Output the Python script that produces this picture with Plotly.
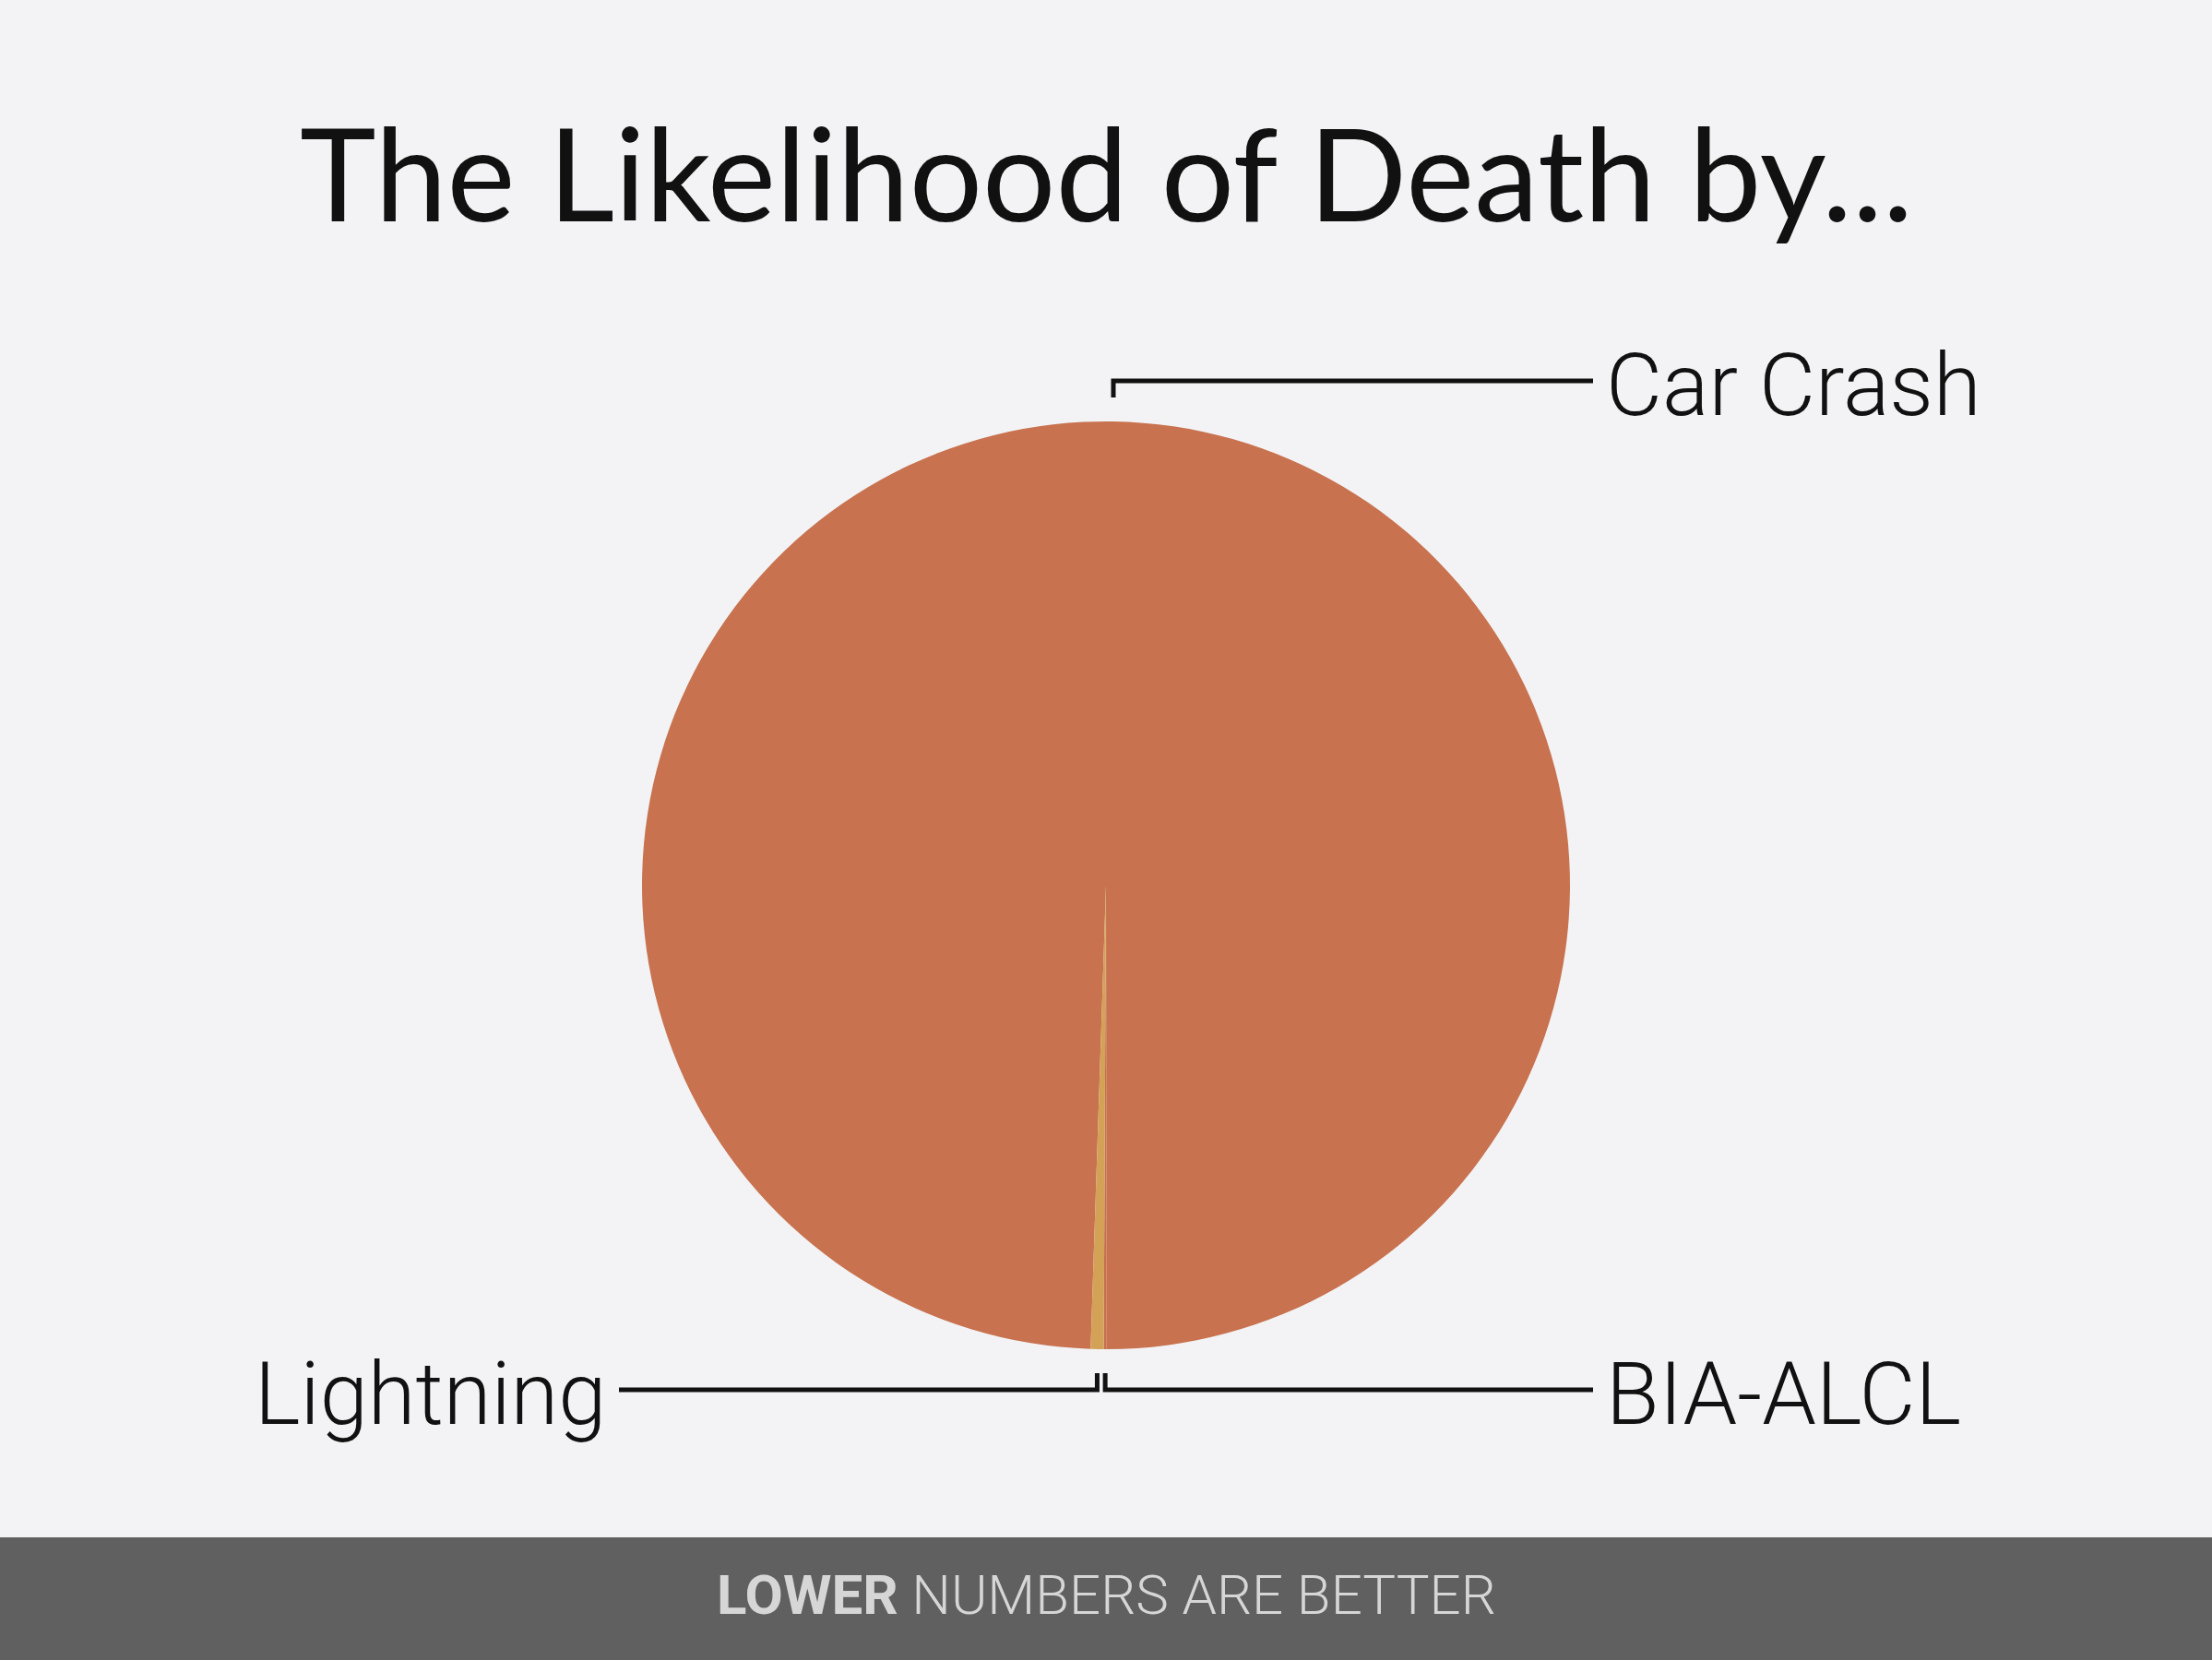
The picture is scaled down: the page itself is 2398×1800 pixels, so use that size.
import math

import plotly.graph_objects as go

# chart data
labels = ["Car Crash", "BIA-ALCL", "Lightning"]
values = [99.45, 0.10, 0.45]
slice_colors = ["#C8724F", "#C56F4C", "#D4A257"]
label_sides = ["right", "right", "left"]

title_text = "The Likelihood of Death by..."
footer_text = "<b>LOWER</b> NUMBERS ARE BETTER"

# page / pie geometry (pixels)
W, H = 2398, 1800
CX, CY, R = 1199, 960, 503
ROTATION = 181.9  # clockwise from 12 o'clock, where the first slice starts
TICK_GAP, TICK_LEN = 26, 18
LINE_REACH = 528   # horizontal leader end, measured from the pie centre
TEXT_PAD = 12
FOOTER_H = 133

BG = "#F3F3F5"
INK = "#111111"


def px(x):
    return x / W


def py(y):
    return 1 - y / H


fig = go.Figure()
fig.add_pie(
    labels=labels,
    values=values,
    marker=dict(colors=slice_colors, line=dict(width=0)),
    sort=False,
    direction="clockwise",
    rotation=ROTATION,
    textinfo="none",
    hoverinfo="label+percent",
    showlegend=False,
    domain=dict(x=[px(CX - R), px(CX + R)], y=[py(CY + R), py(CY - R)]),
)

# elbow leader lines + labels, placed at each slice's mid-angle
shapes = []
annotations = []
total = sum(values)
angle = ROTATION
for name, v, side in zip(labels, values, label_sides):
    span = v / total * 360
    mid = math.radians(angle + span / 2)
    angle += span
    x0 = CX + R * math.sin(mid)
    up = math.cos(mid) > 0
    sgn = -1 if up else 1
    y_tick = CY + sgn * (R + TICK_GAP)
    y_line = CY + sgn * (R + TICK_GAP + TICK_LEN)
    x_end = CX + LINE_REACH if side == "right" else CX - LINE_REACH
    path = f"M {px(x0)} {py(y_tick)} L {px(x0)} {py(y_line)} L {px(x_end)} {py(y_line)}"
    shapes.append(dict(type="path", xref="paper", yref="paper", path=path,
                       line=dict(color=INK, width=5)))
    tx = x_end + TEXT_PAD if side == "right" else x_end - TEXT_PAD
    annotations.append(dict(
        text=name, xref="paper", yref="paper", x=px(tx), y=py(y_line + 5),
        xanchor="left" if side == "right" else "right", yanchor="middle",
        showarrow=False, font=dict(family="Roboto", size=94, color=INK, weight=300),
    ))

# footer band
shapes.append(dict(type="rect", xref="paper", yref="paper", x0=0, x1=1,
                   y0=0, y1=FOOTER_H / H, fillcolor="#606060", line=dict(width=0),
                   layer="below"))
annotations.append(dict(
    text=footer_text, xref="paper", yref="paper", x=0.5, y=py(H - FOOTER_H / 2 - 4),
    xanchor="center", yanchor="middle", showarrow=False,
    font=dict(family="Roboto", size=60, color="#D6D6D6", weight=300),
))

# title
annotations.append(dict(
    text=title_text, xref="paper", yref="paper", x=0.5, y=py(186),
    xanchor="center", yanchor="middle", showarrow=False,
    font=dict(family="Lato", size=140, color=INK),
))

fig.update_layout(
    width=W, height=H,
    margin=dict(l=0, r=0, t=0, b=0),
    paper_bgcolor=BG, plot_bgcolor=BG,
    shapes=shapes, annotations=annotations,
)

# drop the browser's default page margin so the figure fills the window
fig.write_html("out.html", config={"displayModeBar": False},
               post_script="document.body.style.margin='0';")
